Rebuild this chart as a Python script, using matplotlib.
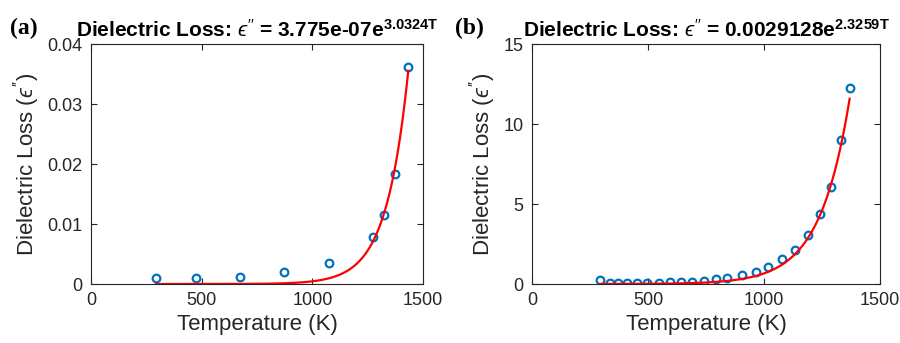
import numpy as np
import matplotlib
matplotlib.use("Agg")
import matplotlib.pyplot as plt

plt.rcParams['font.family'] = ['Liberation Sans', 'DejaVu Sans']
plt.rcParams['mathtext.fontset'] = 'custom'
plt.rcParams['mathtext.rm'] = 'Liberation Sans'
plt.rcParams['mathtext.it'] = 'Liberation Sans:italic'
plt.rcParams['mathtext.bf'] = 'Liberation Sans:bold'
plt.rcParams['mathtext.fallback'] = 'cm'

# (a) measured points
temp_a = [293, 473, 673, 873, 1073, 1273, 1323, 1373, 1433]
loss_a = [0.00094, 0.00106, 0.00122, 0.0020, 0.00356, 0.00789, 0.0115, 0.0184, 0.0362]
# (b) measured points
temp_b = [293, 338, 369, 409, 451, 495, 546, 595, 641, 690, 740, 792,
          841, 904, 967, 1019, 1078, 1132, 1190, 1241, 1287, 1333, 1369]
loss_b = [0.25, 0.08, 0.06, 0.06, 0.06, 0.08, 0.08, 0.10, 0.12, 0.15, 0.20, 0.29,
          0.40, 0.54, 0.75, 1.08, 1.54, 2.10, 3.04, 4.40, 6.08, 8.98, 12.27]

# fit parameters from the titles, T = (temperature - 300) / 300
fit_a = (3.775e-07, 3.0324)
fit_b = (0.0029128, 2.3259)

xticks = [0, 500, 1000, 1500]
yticks_a = [0, 0.01, 0.02, 0.03, 0.04]
ylabels_a = ['0', '0.01', '0.02', '0.03', '0.04']
yticks_b = [0, 5, 10, 15]

blue = '#0072BD'
axcol = '#262626'
eps = "$\u03f5''$"


def fit_line(temps, p):
    t = np.linspace(min(temps), max(temps), 300)
    return t, p[0] * np.exp(p[1] * (t - 300) / 300)


def style(ax):
    ax.tick_params(direction='in', length=4, top=True, right=True,
                   labelsize=13, colors=axcol, pad=6, width=0.8)
    for s in ax.spines.values():
        s.set_color(axcol)
        s.set_linewidth(0.8)
    ax.set_xlim(0, 1500)
    ax.set_xticks(xticks)
    ax.set_xticklabels([str(v) for v in xticks])
    ax.set_xlabel('Temperature (K)', fontsize=16, color=axcol, labelpad=3)
    ax.set_ylabel('Dielectric Loss (' + eps + ')', fontsize=16, color=axcol, labelpad=4)


fig = plt.figure(figsize=(9, 3.43), dpi=100)
ax1 = fig.add_axes([0.1011, 0.172, 0.369, 0.6997])
ax2 = fig.add_axes([0.5911, 0.172, 0.3867, 0.6997])

ax1.plot(temp_a, loss_a, 'o', mfc='none', mec=blue, mew=1.6, ms=5.5)
tx, ty = fit_line(temp_a, fit_a)
ax1.plot(tx, ty, '-', color='r', lw=1.6)
ax1.set_ylim(0, 0.04)
ax1.set_yticks(yticks_a)
ax1.set_yticklabels(ylabels_a)
style(ax1)
ax1.set_title('Dielectric Loss: ' + eps + r" = 3.775e-07e$^{\mathbf{3.0324T}}$",
              fontsize=15, fontweight='bold', pad=5)

ax2.plot(temp_b, loss_b, 'o', mfc='none', mec=blue, mew=1.6, ms=5.5)
tx, ty = fit_line(temp_b, fit_b)
ax2.plot(tx, ty, '-', color='r', lw=1.6)
ax2.set_ylim(0, 15)
ax2.set_yticks(yticks_b)
ax2.set_yticklabels([str(v) for v in yticks_b])
style(ax2)
ax2.set_title('Dielectric Loss: ' + eps + r" = 0.0029128e$^{\mathbf{2.3259T}}$",
              fontsize=15, fontweight='bold', pad=5)

fig.text(10 / 900, 1 - 34 / 343, '(a)', fontsize=17, fontweight='bold',
         family='Liberation Serif', ha='left', va='baseline')
fig.text(455 / 900, 1 - 34 / 343, '(b)', fontsize=17, fontweight='bold',
         family='Liberation Serif', ha='left', va='baseline')

fig.savefig('out.png', dpi=100)
